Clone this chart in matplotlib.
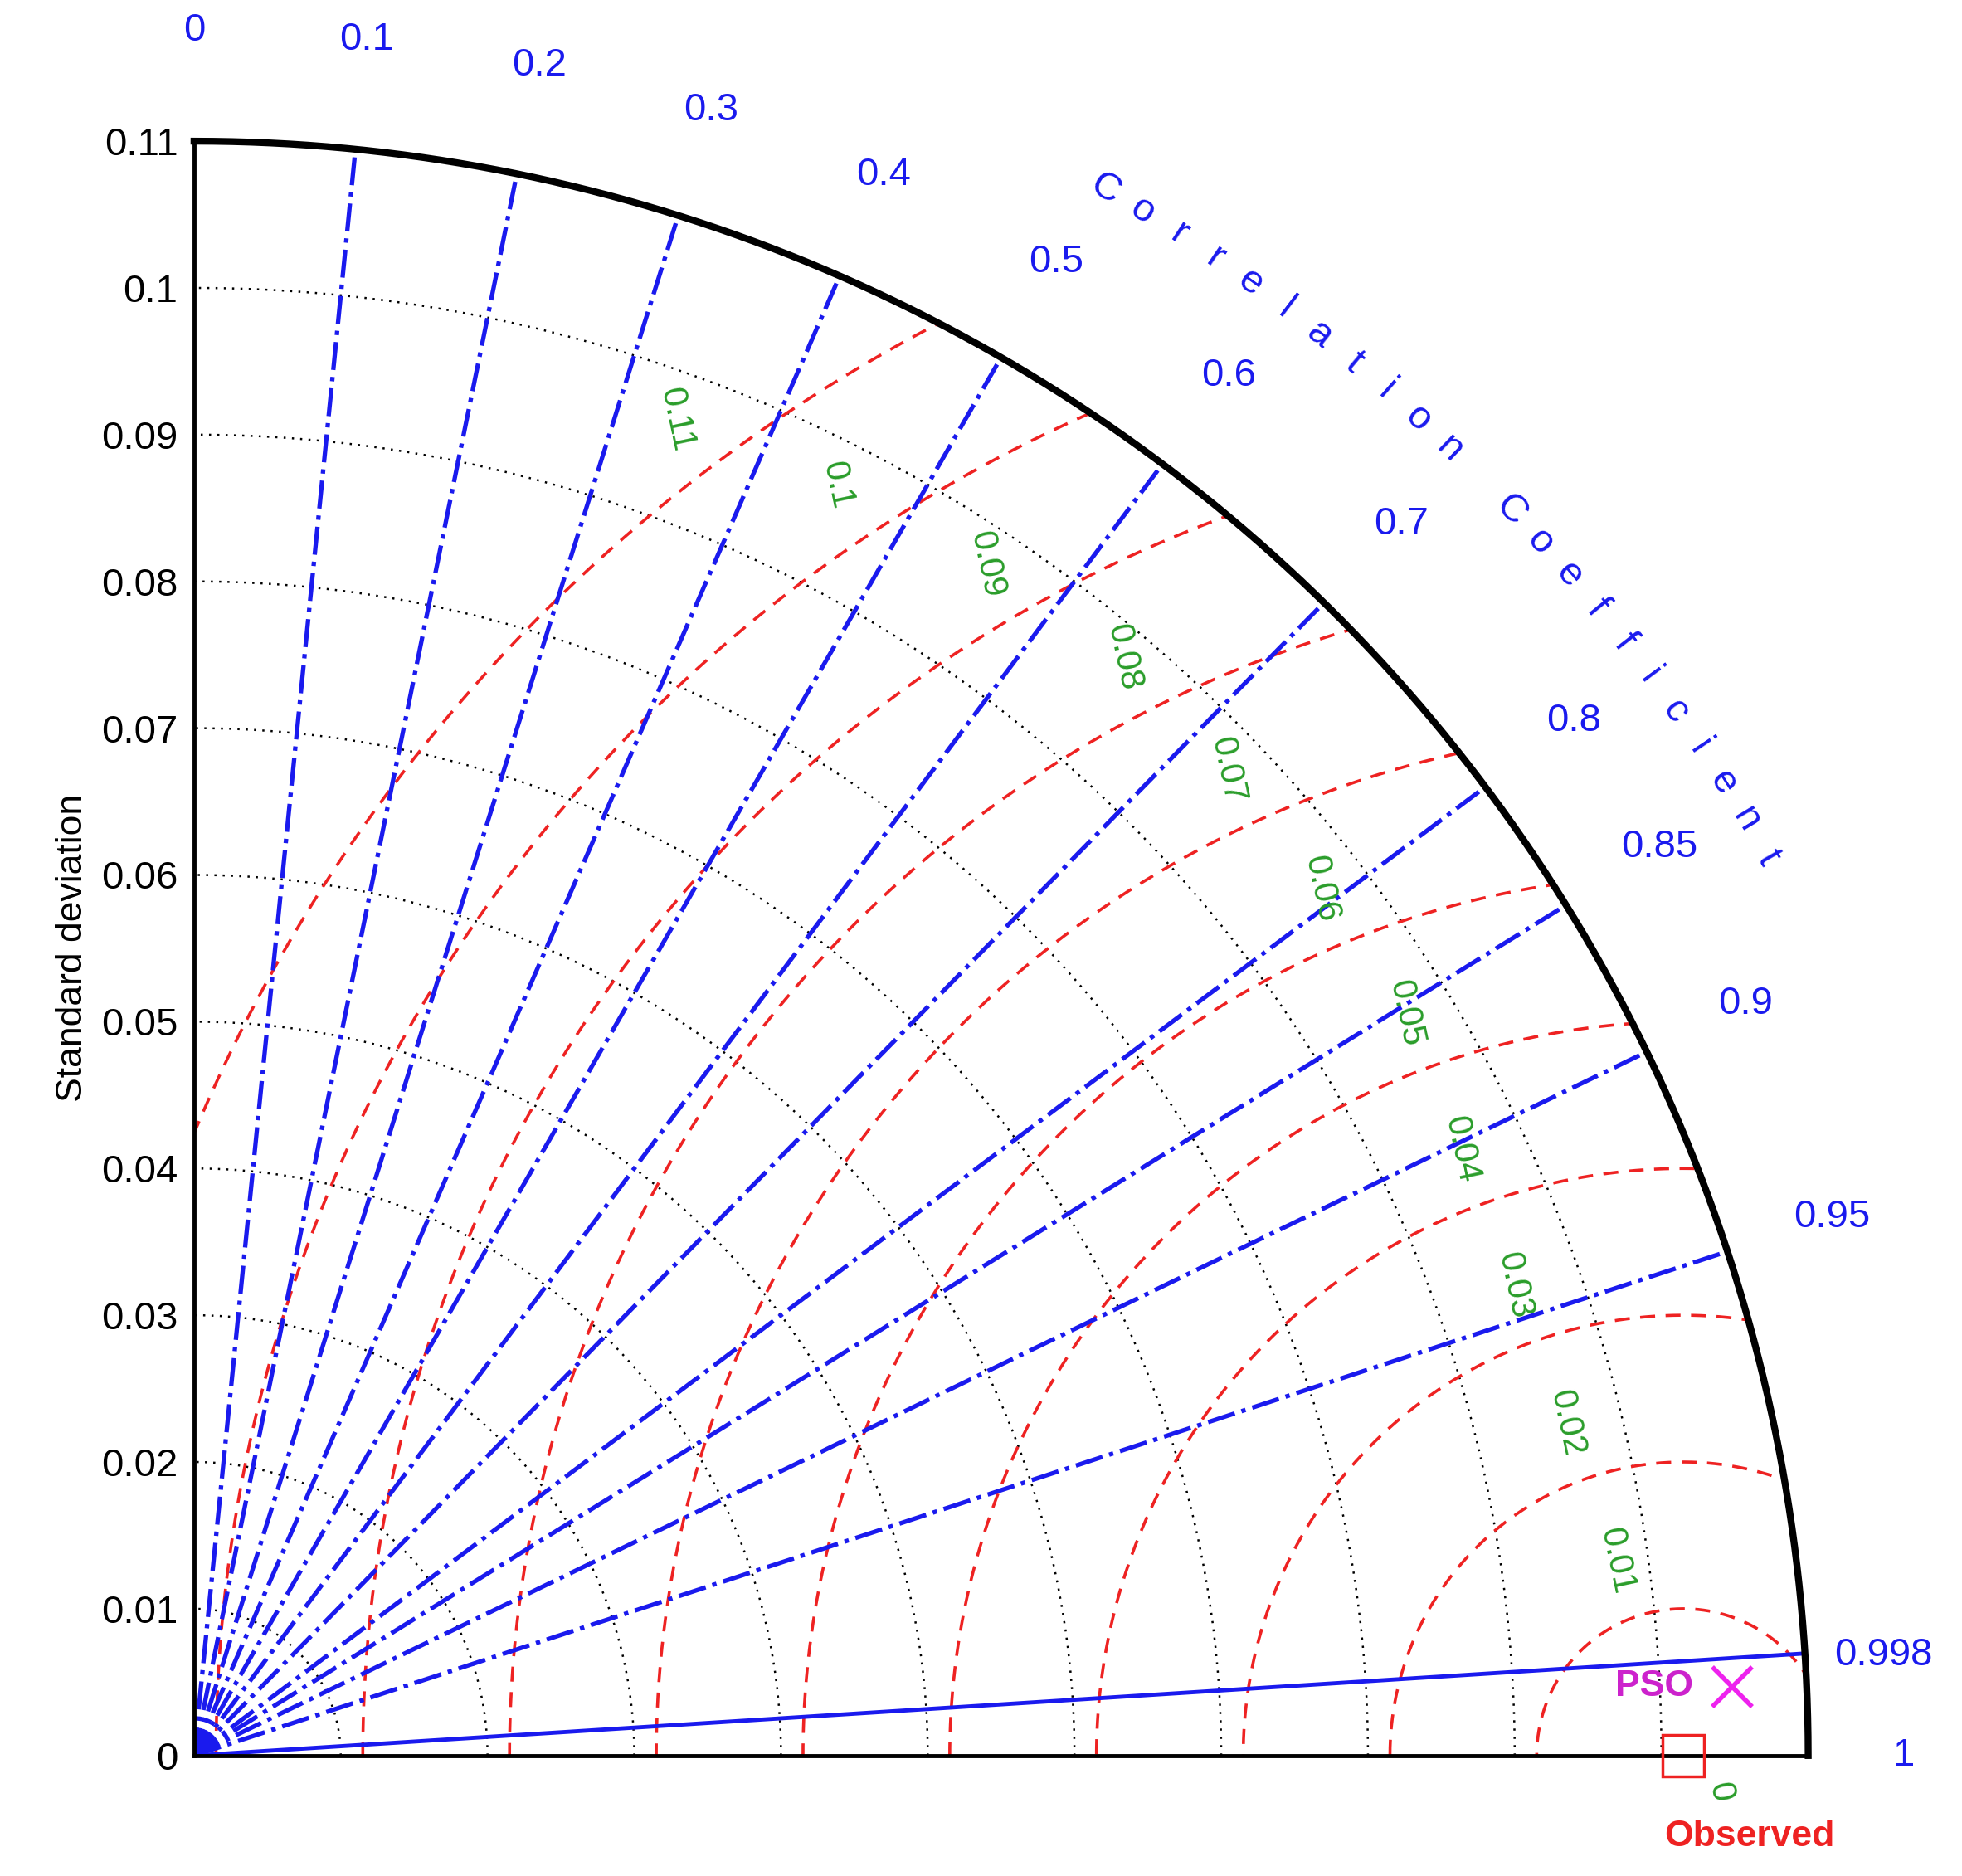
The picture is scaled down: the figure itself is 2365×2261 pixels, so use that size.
import numpy as np
import matplotlib
matplotlib.use("Agg")
import matplotlib.pyplot as plt
from matplotlib.patches import Wedge

plt.rcParams['font.family'] = ['Liberation Sans', 'DejaVu Sans']

# ---- data ----
std_max = 0.11
std_ticks = [0, 0.01, 0.02, 0.03, 0.04, 0.05, 0.06, 0.07, 0.08, 0.09, 0.1, 0.11]
std_tick_labels = ["0", "0.01", "0.02", "0.03", "0.04", "0.05", "0.06", "0.07", "0.08", "0.09", "0.1", "0.11"]
corr_ticks = [0.1, 0.2, 0.3, 0.4, 0.5, 0.6, 0.7, 0.8, 0.85, 0.9, 0.95]
corr_labels = ["0.1", "0.2", "0.3", "0.4", "0.5", "0.6", "0.7", "0.8", "0.85", "0.9", "0.95"]
rms_levels = [0.01, 0.02, 0.03, 0.04, 0.05, 0.06, 0.07, 0.08, 0.09, 0.1, 0.11]
rms_labels = ["0.01", "0.02", "0.03", "0.04", "0.05", "0.06", "0.07", "0.08", "0.09", "0.1", "0.11"]
obs_std = 0.1015
pso_std = 0.1049
pso_corr = 0.999
line_corr = 0.998

fig = plt.figure(figsize=(23.65, 22.61), dpi=100)
ax = fig.add_axes([0.0989, 0.064, 0.8227, 0.861])
ax.set_xlim(0, std_max)
ax.set_ylim(0, std_max)
ax.set_aspect("equal")
for s in ax.spines.values():
    s.set_visible(False)
ax.set_xticks([])
ax.set_yticks(std_ticks)
ax.set_yticklabels(std_tick_labels, fontsize=34)
ax.tick_params(axis="y", length=0, pad=14)
ax.set_ylabel("Standard deviation", fontsize=32, labelpad=10)

th = np.linspace(0, np.pi / 2, 400)
clip = Wedge((0, 0), std_max, 0, 90, transform=ax.transData, facecolor="none", edgecolor="none")
ax.add_patch(clip)

for s in std_ticks[1:-1]:
    ax.plot(s * np.cos(th), s * np.sin(th), ls=(0, (1, 3)), color="k", lw=1.8)

phi = np.linspace(0, np.pi, 600)
angs = np.interp(rms_levels, [0.01, 0.05, 0.08, 0.11], [109, 110.5, 117, 127])
for r, lab, a in zip(rms_levels, rms_labels, angs):
    l, = ax.plot(obs_std + r * np.cos(phi), r * np.sin(phi), ls=(0, (5, 3.5)), color="#ee2222", lw=2.6)
    l.set_clip_path(clip)
    rr = r + 0.004
    ax.text(obs_std + rr * np.cos(np.radians(a)), rr * np.sin(np.radians(a)), lab,
            color="#2a9d2a", fontsize=30, rotation=-78, ha="center", va="center")
ax.text(obs_std + 0.0025, -0.0025, "0", color="#2a9d2a", fontsize=30, rotation=-78,
        ha="center", va="center", clip_on=False)

for c, lab in zip(corr_ticks, corr_labels):
    t = np.arccos(c)
    ax.plot([0, std_max * np.cos(t)], [0, std_max * np.sin(t)], ls="-.", color="#1a1aee", lw=3.8)
    ax.text(0.1175 * np.cos(t), 0.1175 * np.sin(t), lab, color="#1a1aee", fontsize=34,
            ha="center", va="center", clip_on=False)
t = np.arccos(line_corr)
ax.plot([0, std_max * np.cos(t)], [0, std_max * np.sin(t)], "-", color="#1a1aee", lw=3.5)
ax.text(0.1118, 0.0068, "0.998", color="#1a1aee", fontsize=34,
        ha="left", va="center", clip_on=False)
ax.text(0.1165, 0, "1", color="#1a1aee", fontsize=34, ha="center", va="center", clip_on=False)
ax.text(0, 0.1175, "0", color="#1a1aee", fontsize=34, ha="center", va="center", clip_on=False)

ax.plot(std_max * np.cos(th), std_max * np.sin(th), "k-", lw=6, clip_on=False)
ax.plot([0, std_max], [0, 0], "k-", lw=3.5, clip_on=False)
ax.plot([0, 0], [0, std_max], "k-", lw=3.5, clip_on=False)

title = "Correlation Coefficient"
angs_t = np.linspace(np.radians(59.8), np.radians(29.7), len(title))
for ch, a in zip(title, angs_t):
    ax.text(0.1235 * np.cos(a), 0.1235 * np.sin(a), ch, color="#1a1aee", fontsize=34,
            rotation=np.degrees(a) - 90, ha="center", va="center", clip_on=False)

ax.plot(obs_std, 0, "s", mfc="none", mec="#ee2222", ms=36, mew=2.5, clip_on=False)
ax.text(obs_std + 0.0045, -0.0055, "Observed", color="#ee2222", fontsize=32, fontweight="bold",
        ha="center", va="center", clip_on=False)
px, py = pso_std * pso_corr, pso_std * np.sin(np.arccos(pso_corr))
ax.plot(px, py, "x", color="#ee22ee", ms=34, mew=4, clip_on=False)
ax.text(px - 0.0053, py, "PSO", color="#cc22cc", fontsize=32, fontweight="bold",
        ha="center", va="center", clip_on=False)

fig.savefig("out.png", dpi=100)
